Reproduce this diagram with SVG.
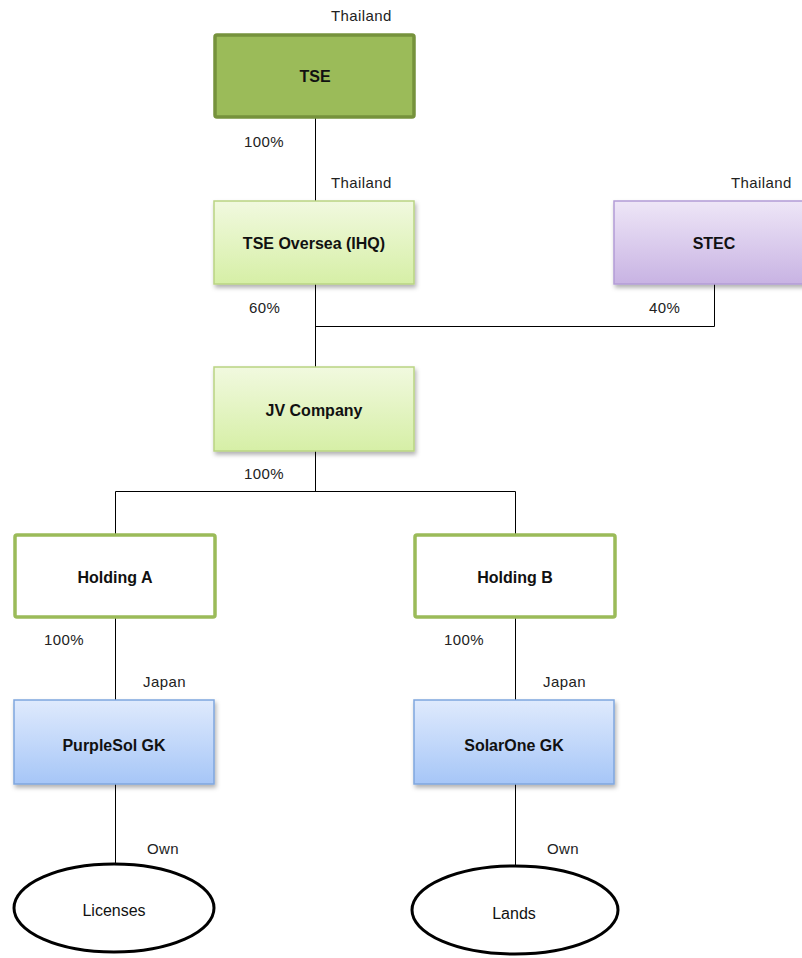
<svg xmlns="http://www.w3.org/2000/svg" width="802" height="958" viewBox="0 0 802 958">
<style>
.lbl{font-family:"Liberation Sans",Arial,sans-serif;font-size:15px;fill:#222;letter-spacing:0.4px}
.bt{font-family:"Liberation Sans",Arial,sans-serif;font-size:16px;font-weight:bold;fill:#111;text-anchor:middle;dominant-baseline:central}
.nt{font-family:"Liberation Sans",Arial,sans-serif;font-size:16px;fill:#111;text-anchor:middle;dominant-baseline:central}
.ln{stroke:#000;stroke-width:1;fill:none}
.green{fill:url(#gGreen);stroke:#b9d483;stroke-width:1.5}
.purple{fill:url(#gPurple);stroke:#b39cd6;stroke-width:1.5}
.blue{fill:url(#gBlue);stroke:#7fa6de;stroke-width:1.5}
.hold{fill:#fff;stroke:#9bbb59;stroke-width:3.5}
.ell{fill:#fff;stroke:#000;stroke-width:3}
</style>
<defs>
<linearGradient id="gGreen" x1="0" y1="0" x2="0" y2="1"><stop offset="0" stop-color="#f1f9df"/><stop offset="1" stop-color="#d6efa6"/></linearGradient>
<linearGradient id="gPurple" x1="0" y1="0" x2="0" y2="1"><stop offset="0" stop-color="#eee6f7"/><stop offset="1" stop-color="#c8b3e3"/></linearGradient>
<linearGradient id="gBlue" x1="0" y1="0" x2="0" y2="1"><stop offset="0" stop-color="#dfeafd"/><stop offset="1" stop-color="#a6c6f7"/></linearGradient>
<filter id="sh" x="-10%" y="-10%" width="130%" height="140%"><feDropShadow dx="1.5" dy="3" stdDeviation="2" flood-color="#000" flood-opacity="0.3"/></filter>
</defs>
<g id="connectors">
<line class="ln" x1="315.5" y1="117" x2="315.5" y2="201"/>
<polyline class="ln" points="315.5,284 315.5,326.5 714.5,326.5 714.5,284"/>
<line class="ln" x1="315.5" y1="326" x2="315.5" y2="367"/>
<line class="ln" x1="315.5" y1="451" x2="315.5" y2="491"/>
<polyline class="ln" points="115.5,534 115.5,491.5 515.5,491.5 515.5,534"/>
<line class="ln" x1="115.5" y1="618" x2="115.5" y2="700"/>
<line class="ln" x1="515.5" y1="618" x2="515.5" y2="700"/>
<line class="ln" x1="115.5" y1="784" x2="115.5" y2="865"/>
<line class="ln" x1="515.5" y1="784" x2="515.5" y2="867"/>
</g>
<g id="labels">
<text class="lbl" x="331" y="21">Thailand</text>
<text class="lbl" x="244" y="147">100%</text>
<text class="lbl" x="331" y="188">Thailand</text>
<text class="lbl" x="731" y="188">Thailand</text>
<text class="lbl" x="249" y="313">60%</text>
<text class="lbl" x="649" y="313">40%</text>
<text class="lbl" x="244" y="479">100%</text>
<text class="lbl" x="44" y="645">100%</text>
<text class="lbl" x="444" y="645">100%</text>
<text class="lbl" x="143" y="687">Japan</text>
<text class="lbl" x="543" y="687">Japan</text>
<text class="lbl" x="147" y="854">Own</text>
<text class="lbl" x="547" y="854">Own</text>
</g>
<g id="tse">
<rect x="215" y="35" width="199" height="82" rx="2" fill="#9bbb59" stroke="#76923c" stroke-width="3.5"/>
<text class="bt" x="315" y="76">TSE</text>
</g>
<g id="tse-oversea">
<rect class="green" x="214" y="201" width="200" height="83" filter="url(#sh)"/>
<text class="bt" x="314" y="243">TSE Oversea (IHQ)</text>
</g>
<g id="stec">
<rect class="purple" x="614" y="201" width="200" height="83" filter="url(#sh)"/>
<text class="bt" x="714" y="243">STEC</text>
</g>
<g id="jv">
<rect class="green" x="214" y="367" width="200" height="84" filter="url(#sh)"/>
<text class="bt" x="314" y="410">JV Company</text>
</g>
<g id="holding-a">
<rect class="hold" x="15" y="535" width="200" height="82" rx="2"/>
<text class="bt" x="115" y="577">Holding A</text>
</g>
<g id="holding-b">
<rect class="hold" x="415" y="535" width="200" height="82" rx="2"/>
<text class="bt" x="515" y="577">Holding B</text>
</g>
<g id="purplesol">
<rect class="blue" x="14" y="700" width="200" height="84" filter="url(#sh)"/>
<text class="bt" x="114" y="745">PurpleSol GK</text>
</g>
<g id="solarone">
<rect class="blue" x="414" y="700" width="200" height="84" filter="url(#sh)"/>
<text class="bt" x="514" y="745">SolarOne GK</text>
</g>
<g id="licenses">
<ellipse class="ell" cx="114" cy="908" rx="100" ry="44"/>
<text class="nt" x="114" y="910">Licenses</text>
</g>
<g id="lands">
<ellipse class="ell" cx="515" cy="910" rx="103" ry="44"/>
<text class="nt" x="514" y="913">Lands</text>
</g>
</svg>
